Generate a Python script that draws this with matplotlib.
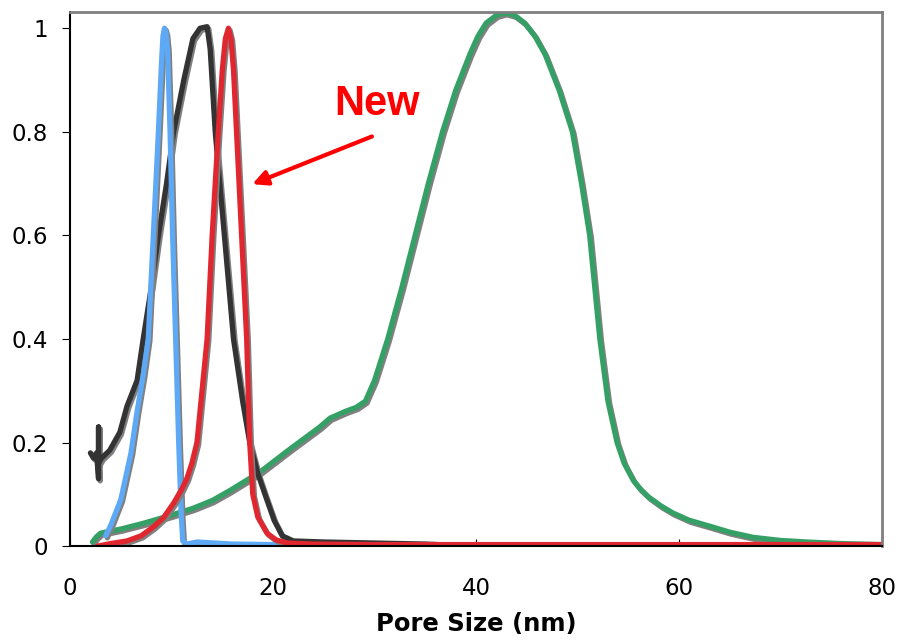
import matplotlib

matplotlib.use("Agg")
import matplotlib.pyplot as plt
import matplotlib.patheffects as pe

# values
blue_x = [3.5, 4.0, 5.0, 6.0, 6.6, 7.2, 7.7, 8.2, 8.7, 9.0, 9.15, 9.3, 9.45,
          9.6, 9.85, 10.1, 10.4, 10.7, 10.95, 11.1, 11.5, 12.5, 16.0, 20.0, 22.0]
blue_y = [0.02, 0.04, 0.09, 0.18, 0.26, 0.33, 0.40, 0.60, 0.80, 0.93, 0.985,
          1.0, 0.99, 0.96, 0.80, 0.60, 0.40, 0.20, 0.06, 0.01, 0.004, 0.008,
          0.004, 0.003, 0.0]

black_x = [2.0, 2.3, 2.6, 2.8, 2.8, 2.8, 3.1, 3.9, 4.9, 5.6, 6.6, 7.2, 8.0, 8.7,
           9.5, 10.2, 11.2, 12.1, 12.8, 13.5, 13.8, 14.3, 15.2, 16.1, 17.0, 17.7,
           18.5, 19.2, 20.1, 20.9, 22.0, 25.0, 30.0, 35.0, 40.0, 80.0]
black_y = [0.18, 0.17, 0.18, 0.13, 0.23, 0.16, 0.17, 0.185, 0.22, 0.27, 0.32,
           0.40, 0.50, 0.60, 0.70, 0.80, 0.90, 0.98, 1.0, 1.003, 0.96, 0.80,
           0.60, 0.40, 0.28, 0.20, 0.14, 0.10, 0.05, 0.02, 0.01, 0.008, 0.006,
           0.004, 0.0, 0.0]

red_x = [2.7, 4.0, 5.6, 7.0, 8.2, 9.2, 10.2, 11.0, 11.5, 12.0, 12.5, 13.1, 13.5,
         14.0, 14.6, 15.0, 15.3, 15.6, 15.85, 16.1, 16.4, 16.9, 17.4, 17.7,
         18.0, 18.5, 19.4, 20.3, 21.4, 24.0, 30.0, 40.0, 60.0, 80.0]
red_y = [0.0, 0.005, 0.01, 0.02, 0.037, 0.055, 0.083, 0.11, 0.13, 0.16, 0.20,
         0.32, 0.40, 0.60, 0.80, 0.92, 0.98, 1.0, 0.98, 0.92, 0.80, 0.60, 0.40,
         0.20, 0.10, 0.056, 0.025, 0.012, 0.006, 0.004, 0.003, 0.003, 0.003,
         0.003]

green_x = [2.2, 2.6, 3.0, 5.0, 7.2, 10.0, 12.1, 14.0, 15.8, 18.7, 21.5, 24.6,
           25.6, 27.1, 28.2, 29.1, 30.0, 31.3, 32.7, 34.0, 35.3, 36.7, 38.0,
           39.4, 40.2, 41.0, 42.0, 42.9, 43.8, 44.8, 45.8, 46.8, 48.2, 49.5,
           50.4, 51.2, 52.2, 53.0, 53.9, 54.6, 55.5, 56.2, 57.0, 58.2, 59.4,
           61.0, 63.3, 65.0, 67.3, 70.0, 72.6, 76.0, 80.0]
green_y = [0.008, 0.018, 0.025, 0.033, 0.044, 0.06, 0.073, 0.088, 0.108, 0.143,
           0.185, 0.23, 0.247, 0.26, 0.268, 0.28, 0.32, 0.40, 0.50, 0.60, 0.70,
           0.80, 0.88, 0.95, 0.985, 1.01, 1.025, 1.03, 1.025, 1.01, 0.985,
           0.95, 0.88, 0.80, 0.70, 0.60, 0.40, 0.28, 0.20, 0.16, 0.127, 0.11,
           0.095, 0.078, 0.064, 0.05, 0.037, 0.027, 0.017, 0.011, 0.008, 0.005,
           0.003]

x_ticks = [0, 20, 40, 60, 80]
y_ticks = [0, 0.2, 0.4, 0.6, 0.8, 1.0]
y_tick_labels = ["0", "0.2", "0.4", "0.6", "0.8", "1"]

SERIES = (
    (green_x, green_y, "#35a065"),
    (black_x, black_y, "#333333"),
    (blue_x, blue_y, "#5ea9f5"),
    (red_x, red_y, "#e0262e"),
)

fig = plt.figure(figsize=(8.99, 6.41), dpi=100)
ax = fig.add_axes([0.078, 0.148, 0.903, 0.833])

shadow = [pe.SimpleLineShadow(offset=(1.2, -1.5), shadow_color="#808080",
                              alpha=1.0, rho=1.0), pe.Normal()]
for xs, ys, color in SERIES:
    ax.plot(xs, ys, color=color, lw=3.8, solid_joinstyle="round",
            solid_capstyle="round", path_effects=shadow)

ax.set_xlim(0, 80)
ax.set_ylim(0, 1.031)
ax.set_xticks(x_ticks)
ax.set_yticks(y_ticks)
ax.set_yticklabels(y_tick_labels)
ax.tick_params(axis="both", labelsize=16.5, colors="black")
ax.tick_params(axis="x", direction="in", length=5, pad=22)
ax.tick_params(axis="y", direction="out", length=6, pad=10)
for side in ("top", "right"):
    ax.spines[side].set_color("#808080")
    ax.spines[side].set_linewidth(2)
for side in ("left", "bottom"):
    ax.spines[side].set_color("black")
    ax.spines[side].set_linewidth(1.5)

ax.set_xlabel("Pore Size (nm)", fontsize=17.5, fontweight="bold", labelpad=9)

ax.annotate("", xy=(17.7, 0.697), xytext=(30.0, 0.793),
            arrowprops=dict(arrowstyle="-|>", color="#ff0000", lw=3,
                            mutation_scale=22))
ax.text(30.2, 0.853, "New", color="#ff0000", fontsize=30, fontweight="bold",
        family="Liberation Sans", ha="center", va="center")

fig.savefig("out.png", dpi=100)
